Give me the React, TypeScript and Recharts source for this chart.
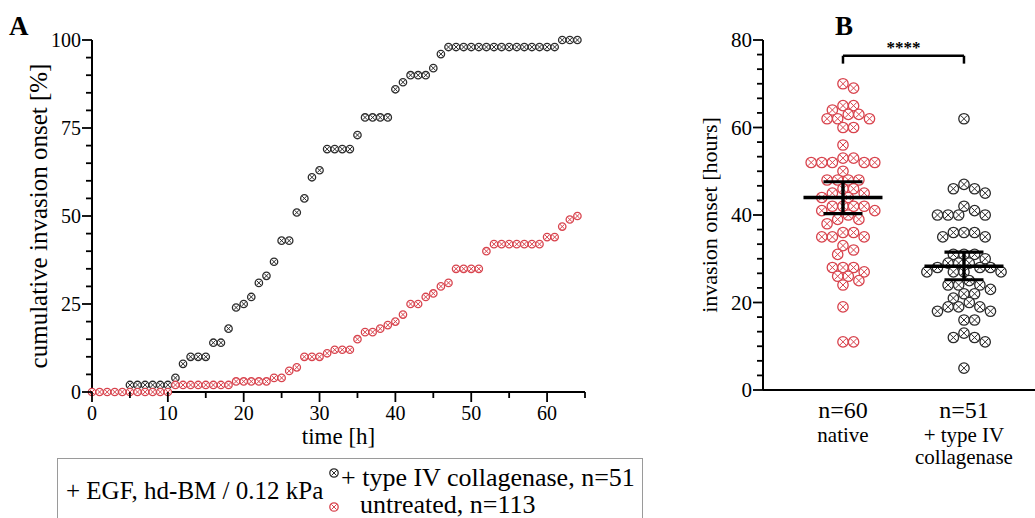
import React from 'react';
import { ScatterChart, Scatter, XAxis, YAxis, ReferenceLine } from 'recharts';

// ---------- Panel A data ----------
const hoursAll = [0,1,2,3,4,5,6,7,8,9,10,11,12,13,14,15,16,17,18,19,20,21,22,23,24,25,26,27,28,29,30,31,32,33,34,35,36,37,38,39,40,41,42,43,44,45,46,47,48,49,50,51,52,53,54,55,56,57,58,59,60,61,62,63,64];
const collagenaseHours = [5,6,7,8,9,10,11,12,13,14,15,16,17,18,19,20,21,22,23,24,25,26,27,28,29,30,31,32,33,34,35,36,37,38,39,40,41,42,43,44,45,46,47,48,49,50,51,52,53,54,55,56,57,58,59,60,61,62,63,64];
const collagenasePct = [2,2,2,2,2,2,4,8,10,10,10,14,14,18,24,25,27,31,33,37,43,43,51,55,61,63,69,69,69,69,73,78,78,78,78,86,88,90,90,90,92,96,98,98,98,98,98,98,98,98,98,98,98,98,98,98,98,100,100,100];
const untreatedPct = [0,0,0,0,0,0,0,0,0,0,0,2,2,2,2,2,2,2,2,3,3,3,3,3,4,4,6,7,10,10,10,11,12,12,12,15,17,17,18,19,20,22,25,25,27,28,30,31,35,35,35,35,40,42,42,42,42,42,42,42,44,44,47,49,50];
const xTicksA = [0,10,20,30,40,50,60];
const yTicksA = [0,25,50,75,100];

// ---------- Panel B data ----------
const nativeOnset = [70,69,65,65,64,63,63,62,62,62,60,60,56,53,53,52,52,52,52,52,50,48,48,48,48,46,46,45,45,44,44,42,42,42,42,41,41,40,39,39,38,36,36,35,35,35,33,32,31,28,28,28,27,26,26,25,24,19,11,11];
const collagenaseOnset = [62,47,46,46,45,42,41,40,40,40,40,36,36,36,35,35,31,31,31,30,29,29,29,28,28,28,27,27,27,27,25,24,24,24,23,22,22,21,20,19,19,19,18,18,16,16,13,12,12,11,5];
const groupMeans = [44, 28.3];
const groupCiLow = [40.3, 25.2];
const groupCiHigh = [47.6, 31.5];
const groupLabelLines = [['native'], ['+ type IV', 'collagenase']];
const yTicksB = [0,20,40,60,80];
const significance = '****';

const RED = '#d8434d';
const BLACK = '#2b2b2b';
const FONT = '"Liberation Serif", "Times New Roman", serif';

function makeMarker(color: string, r: number) {
  return (props: any) => {
    const { cx, cy } = props;
    if (cx == null || cy == null) return <g />;
    const d = r * 0.62;
    return (
      <g>
        <circle cx={cx} cy={cy} r={r} fill="#fff" stroke={color} strokeWidth={1.3} />
        <line x1={cx - d} y1={cy - d} x2={cx + d} y2={cy + d} stroke={color} strokeWidth={1} />
        <line x1={cx - d} y1={cy + d} x2={cx + d} y2={cy - d} stroke={color} strokeWidth={1} />
      </g>
    );
  };
}

function makeHLine(half: number, w: number) {
  return (props: any) => {
    const { cx, cy } = props;
    if (cx == null || cy == null) return <g />;
    return <line x1={cx - half} y1={cy} x2={cx + half} y2={cy} stroke="#000" strokeWidth={w} />;
  };
}
const MeanShape = makeHLine(39.5, 3.6);
const CapShape = makeHLine(19.5, 3.2);

function swarm(values: number[], center: number, pxX: number, pxY: number, diam: number) {
  const order = values.map((v, i) => ({ v, i })).sort((a, b) => b.v - a.v);
  const placed: { ox: number; v: number }[] = [];
  const out: { x: number; y: number }[] = new Array(values.length);
  const step = diam / 2;
  for (const { v, i } of order) {
    let chosen = 0;
    for (let k = 0; k < 60; k++) {
      const m = k === 0 ? 0 : k % 2 === 1 ? Math.ceil(k / 2) : -Math.ceil(k / 2);
      const off = m * step;
      const ok = placed.every(p => (p.ox - off) ** 2 + ((p.v - v) * pxY) ** 2 >= diam * diam * 0.9);
      if (ok) { chosen = off; break; }
    }
    placed.push({ ox: chosen, v });
    out[i] = { x: center + chosen / pxX, y: v };
  }
  return out;
}

// ---- ticks ----
const minorA_Y: number[] = [];
for (let i = 0; i <= 100; i += 5) minorA_Y.push(i);
const minorA_X: number[] = [];
for (let i = 0; i <= 65; i += 5) minorA_X.push(i);
const minorB_Y: number[] = [];
for (let i = 0; i <= 24; i++) minorB_Y.push((i * 80) / 24);

const YTickA = (props: any) => {
  const { x, y, payload } = props;
  const v = payload.value;
  const major = yTicksA.includes(v);
  const len = major ? 10 : 6;
  return (
    <g>
      <line x1={x} y1={y} x2={x - len} y2={y} stroke="#000" strokeWidth={1.8} />
      {major && (
        <text x={x - len - 1} y={y} dy="0.35em" textAnchor="end" fontSize={20} fontFamily={FONT} fill="#000">{v}</text>
      )}
    </g>
  );
};

const XTickA = (props: any) => {
  const { x, y, payload } = props;
  const v = payload.value;
  const major = xTicksA.includes(v);
  const len = major ? 10 : 6;
  return (
    <g>
      <line x1={x} y1={y} x2={x} y2={y + len} stroke="#000" strokeWidth={1.8} />
      {major && (
        <text x={x} y={y + 28} textAnchor="middle" fontSize={20} fontFamily={FONT} fill="#000">{v}</text>
      )}
    </g>
  );
};

const YTickB = (props: any) => {
  const { x, y, payload } = props;
  const v = payload.value;
  const major = yTicksB.some(t => Math.abs(t - v) < 1e-6);
  const len = major ? 10 : 6;
  return (
    <g>
      <line x1={x} y1={y} x2={x - len} y2={y} stroke="#000" strokeWidth={1.8} />
      {major && (
        <text x={x - len - 1} y={y} dy="0.35em" textAnchor="end" fontSize={21} fontFamily={FONT} fill="#000">{Math.round(v)}</text>
      )}
    </g>
  );
};

const groupN = [nativeOnset.length, collagenaseOnset.length];

const XTickB = (props: any) => {
  const { x, y, payload } = props;
  const idx = Math.round(payload.value) - 1;
  if (idx < 0 || idx > 1) return <g />;
  return (
    <g>
      <text x={x} y={y + 28} textAnchor="middle" fontSize={24} fontFamily={FONT} fill="#000">{`n=${groupN[idx]}`}</text>
      {groupLabelLines[idx].map((l, i) => (
        <text key={i} x={x} y={y + 52 + i * 22} textAnchor="middle" fontSize={21} fontFamily={FONT} fill="#000">{l}</text>
      ))}
    </g>
  );
};

const LegendMark = ({ color }: { color: string }) => {
  const M = makeMarker(color, 4.2);
  return (
    <svg width={12} height={12} style={{ position: 'absolute', left: 0, top: 0 }}>
      {M({ cx: 6, cy: 6 })}
    </svg>
  );
};

export default function App() {
  const dataCollagenaseA = collagenaseHours.map((h, i) => ({ x: h, y: collagenasePct[i] }));
  const dataUntreatedA = hoursAll.map((h, i) => ({ x: h, y: untreatedPct[i] }));

  const pxX = 121;
  const pxY = 350 / 80;
  const dataNativeB = swarm(nativeOnset, 1, pxX, pxY, 10.6);
  const dataCollB = swarm(collagenaseOnset, 2, pxX, pxY, 10.6);
  const meanB = groupMeans.map((m, g) => ({ x: g + 1, y: m }));
  const ciB = groupMeans.map((_, g) => [
    { x: g + 1, y: groupCiLow[g] },
    { x: g + 1, y: groupCiHigh[g] },
  ]);

  const bracketY = 76.4;
  const bracketDrop = 74.6;

  return (
    <div style={{ position: 'absolute', left: 0, top: 0, width: 1035, height: 518, overflow: 'hidden', background: '#fff', fontFamily: FONT }}>
      {/* Panel A */}
      <div style={{ position: 'absolute', left: 0, top: 0 }}>
        <ScatterChart width={640} height={460} margin={{ top: 40, right: 55, bottom: 8, left: 0 }}>
          <XAxis
            type="number"
            dataKey="x"
            domain={[0, 65]}
            ticks={minorA_X}
            tick={XTickA}
            tickLine={false}
            tickSize={0}
            tickMargin={0}
            height={60}
            axisLine={{ stroke: '#000', strokeWidth: 2 }}
            interval={0}
            label={{ value: 'time [h]', position: 'insideBottom', offset: 8, fontSize: 23, fill: '#000', fontFamily: FONT }}
          />
          <YAxis
            type="number"
            dataKey="y"
            domain={[0, 100]}
            ticks={minorA_Y}
            tick={YTickA}
            tickLine={false}
            tickSize={0}
            tickMargin={0}
            width={92}
            interval={0}
            axisLine={{ stroke: '#000', strokeWidth: 2 }}
            label={{ value: 'cumulative invasion onset [%]', angle: -90, position: 'insideLeft', offset: 38, fontSize: 25, fill: '#000', fontFamily: FONT, style: { textAnchor: 'middle' } }}
          />
          <Scatter data={dataCollagenaseA} isAnimationActive={false} shape={makeMarker(BLACK, 3.7)} />
          <Scatter data={dataUntreatedA} isAnimationActive={false} shape={makeMarker(RED, 3.7)} />
        </ScatterChart>
      </div>

      {/* Panel B */}
      <div style={{ position: 'absolute', left: 660, top: 0 }}>
        <ScatterChart width={375} height={518} margin={{ top: 40, right: 0, bottom: 38, left: 0 }}>
          <XAxis
            type="number"
            dataKey="x"
            domain={[0.339, 2.587]}
            allowDataOverflow
            ticks={[1, 2]}
            tick={XTickB}
            tickLine={false}
            tickSize={0}
            tickMargin={0}
            height={90}
            interval={0}
            axisLine={{ stroke: '#000', strokeWidth: 2 }}
          />
          <YAxis
            type="number"
            dataKey="y"
            domain={[0, 80]}
            allowDataOverflow
            ticks={minorB_Y}
            tick={YTickB}
            tickLine={false}
            tickSize={0}
            tickMargin={0}
            width={103}
            interval={0}
            axisLine={{ stroke: '#000', strokeWidth: 2 }}
            label={{ value: 'invasion onset [hours]', angle: -90, position: 'insideLeft', offset: 49, fontSize: 22, fill: '#000', fontFamily: FONT, style: { textAnchor: 'middle' } }}
          />
          <ReferenceLine ifOverflow="visible" stroke="#000" strokeWidth={2.5} segment={[{ x: 1, y: bracketDrop }, { x: 1, y: bracketY }]} />
          <ReferenceLine ifOverflow="visible" stroke="#000" strokeWidth={2.5} segment={[{ x: 2, y: bracketDrop }, { x: 2, y: bracketY }]} />
          <ReferenceLine
            ifOverflow="visible"
            stroke="#000"
            strokeWidth={2.5}
            segment={[{ x: 1, y: bracketY }, { x: 2, y: bracketY }]}
            label={{ value: significance, position: 'top', offset: 3, fontSize: 17, fill: '#000', fontFamily: FONT, fontWeight: 'bold' }}
          />
          <Scatter data={dataNativeB} isAnimationActive={false} shape={makeMarker(RED, 5.2)} />
          <Scatter data={dataCollB} isAnimationActive={false} shape={makeMarker(BLACK, 5.2)} />
          {ciB.map((d, g) => (
            <Scatter key={`ci${g}`} data={d} isAnimationActive={false} line={{ stroke: '#000', strokeWidth: 3.4 }} shape={CapShape} />
          ))}
          <Scatter data={meanB} isAnimationActive={false} shape={MeanShape} />
        </ScatterChart>
      </div>

      {/* Panel letters */}
      <div style={{ position: 'absolute', left: 9, top: 12, fontSize: 27, fontWeight: 'bold', lineHeight: '28px' }}>A</div>
      <div style={{ position: 'absolute', left: 835, top: 12, fontSize: 27, fontWeight: 'bold', lineHeight: '28px' }}>B</div>

      {/* Legend */}
      <div style={{ position: 'absolute', left: 57, top: 458, width: 586, height: 80, border: '1px solid #9a9a9a', boxSizing: 'border-box', background: '#fff', fontSize: 25, color: '#000' }}>
        <div style={{ position: 'absolute', left: 8, top: 17, whiteSpace: 'nowrap', lineHeight: '30px' }}>+ EGF, hd-BM / 0.12 kPa</div>
        <div style={{ position: 'absolute', left: 270, top: 8, width: 12, height: 12 }}><LegendMark color={BLACK} /></div>
        <div style={{ position: 'absolute', left: 283, top: 4, whiteSpace: 'nowrap', lineHeight: '30px', fontSize: 26 }}>+ type IV collagenase, n=51</div>
        <div style={{ position: 'absolute', left: 270, top: 42, width: 12, height: 12 }}><LegendMark color={RED} /></div>
        <div style={{ position: 'absolute', left: 302, top: 31, whiteSpace: 'nowrap', lineHeight: '30px', fontSize: 26 }}>untreated, n=113</div>
      </div>
    </div>
  );
}
